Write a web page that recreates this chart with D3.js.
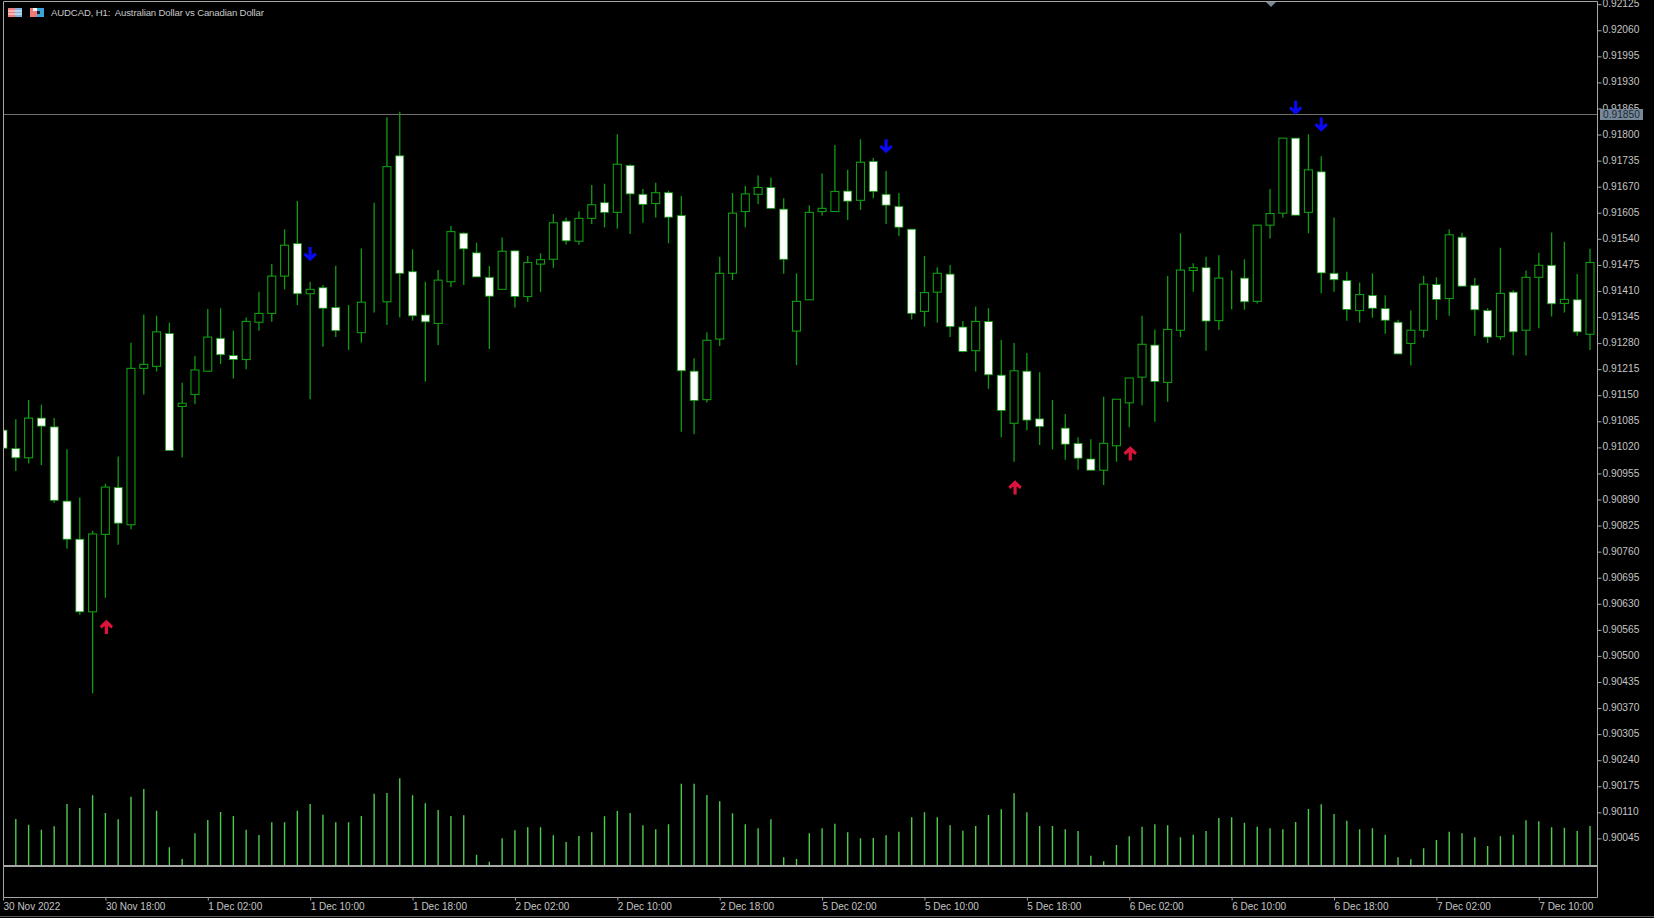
<!DOCTYPE html>
<html>
<head>
<meta charset="utf-8">
<title>AUDCAD, H1</title>
<script src="https://cdn.jsdelivr.net/npm/d3@7"></script>
<style>
  html, body { margin: 0; padding: 0; background: #000; overflow: hidden; }
  text { font-family: "Liberation Sans", sans-serif; }
</style>
</head>
<body>
<div id="plot"></div>
<script>
// prices are in points (price x 100000), one entry per H1 bar
const open = [91063,91017,90994,91093,91071,90886,90791,90610,90803,90920,90827,91217,91222,91304,91122,91152,91210,91292,91249,91239,91332,91354,91447,91528,91403,91418,91369,91310,91306,91381,91383,91747,91458,91350,91329,91433,91554,91505,91444,91414,91510,91396,91477,91489,91584,91534,91591,91630,91606,91723,91651,91628,91655,91598,91210,91139,91290,91454,91608,91651,91668,91614,91310,91388,91608,91608,91659,91636,91733,91651,91621,91564,91359,91407,91452,91320,91261,91334,91200,91080,91210,91091,91070,91068,91030,90991,90963,91024,91131,91195,91275,91182,91312,91461,91468,91336,91444,91442,91384,91574,91604,91791,91606,91707,91454,91436,91361,91399,91366,91332,91279,91312,91426,91391,91544,91424,91361,91296,91407,91312,91444,91474,91379,91388,91302];
const high = [91078,91090,91138,91126,91093,91015,90895,90812,90929,90997,91281,91351,91348,91331,91181,91248,91365,91367,91311,91344,91408,91477,91564,91634,91433,91425,91473,91375,91516,91630,91843,91857,91514,91433,91462,91572,91556,91530,91472,91543,91510,91497,91504,91602,91593,91609,91674,91677,91801,91726,91664,91680,91660,91647,91242,91307,91495,91654,91672,91698,91693,91641,91454,91624,91703,91774,91712,91788,91742,91709,91654,91564,91497,91469,91475,91335,91371,91367,91288,91280,91255,91207,91138,91103,91045,91040,91146,91140,91193,91348,91314,91447,91554,91479,91495,91499,91461,91489,91574,91664,91791,91791,91801,91746,91593,91458,91431,91454,91399,91338,91361,91448,91444,91564,91555,91443,91367,91518,91412,91461,91505,91556,91533,91452,91515];
const low = [91008,90961,90980,90976,90881,90767,90602,90407,90645,90777,90816,91152,91209,91012,90995,91128,91210,91228,91192,91215,91311,91333,91414,91375,91140,91271,91295,91263,91281,91356,91325,91344,91336,91184,91275,91419,91425,91445,91265,91414,91369,91383,91407,91468,91526,91525,91577,91568,91565,91552,91580,91593,91529,91059,91053,91132,91273,91437,91569,91626,91616,91453,91225,91388,91598,91608,91587,91612,91641,91577,91547,91339,91321,91331,91295,91257,91209,91166,91045,90984,91062,91026,91015,90989,90964,90963,90926,90984,91070,91125,91084,91134,91295,91408,91261,91313,91364,91363,91379,91541,91593,91599,91554,91404,91408,91336,91331,91343,91303,91253,91224,91294,91338,91348,91422,91298,91280,91288,91250,91249,91317,91346,91356,91298,91263];
const close = [91018,90994,91093,91073,90888,90791,90610,90804,90921,90831,91217,91227,91308,91012,91130,91213,91295,91251,91239,91334,91354,91447,91524,91403,91414,91367,91311,91310,91382,91381,91720,91454,91348,91333,91437,91558,91515,91445,91397,91509,91396,91481,91488,91580,91535,91591,91625,91606,91726,91652,91626,91655,91594,91211,91137,91287,91454,91604,91652,91668,91616,91489,91384,91606,91616,91658,91634,91731,91658,91624,91569,91354,91406,91454,91321,91259,91334,91201,91112,91211,91088,91072,91070,91028,90993,90963,91030,91140,91193,91277,91184,91314,91462,91468,91335,91442,91444,91383,91574,91603,91791,91599,91712,91455,91438,91364,91401,91367,91337,91253,91312,91427,91389,91550,91422,91363,91295,91404,91308,91444,91474,91378,91389,91308,91481];
const volume = [120,141,124,109,119,186,174,212,159,140,208,231,166,56,21,98,138,162,150,109,93,131,131,166,186,154,131,131,150,217,219,263,212,188,168,150,152,34,13,83,107,116,116,92,72,90,101,149,165,159,122,110,125,247,247,213,194,158,125,113,140,26,21,98,113,127,101,83,84,92,103,146,161,146,122,106,120,153,170,218,161,120,120,110,105,31,14,63,89,118,125,122,86,94,105,144,146,130,118,113,110,132,171,185,156,136,110,113,94,26,20,53,78,103,98,86,60,89,94,137,134,116,115,105,120];

// indicator arrows: bar index and price of the arrow centre
const downBars = [24, 69, 101, 103];
const downPrices = [91502, 91771, 91867, 91825];
const upBars = [8, 79, 88];
const upPrices = [90572, 90920, 91005];

const currentPrice = 91850;

const priceTicks = [92125,92060,91995,91930,91865,91800,91735,91670,91605,91540,91475,91410,91345,91280,91215,91150,91085,91020,90955,90890,90825,90760,90695,90630,90565,90500,90435,90370,90305,90240,90175,90110,90045];
const timeBars = [0,8,16,24,32,40,48,56,64,72,80,88,96,104,112,120];
const timeLabels = ["30 Nov 2022","30 Nov 18:00","1 Dec 02:00","1 Dec 10:00","1 Dec 18:00","2 Dec 02:00","2 Dec 10:00","2 Dec 18:00","5 Dec 02:00","5 Dec 10:00","5 Dec 18:00","6 Dec 02:00","6 Dec 10:00","6 Dec 18:00","7 Dec 02:00","7 Dec 10:00"];

const titleText = "AUDCAD, H1:  Australian Dollar vs Canadian Dollar";

// set the dimensions of the window and the plot frame
const width = 1654;
const height = 918;
const frame = {left: 3.5, top: 1.5, right: 1597.5, bottom: 897.5};
const volumeBase = 866;

const green = "#109c10";
const volumeGreen = "#4ccc4c";
const axisGray = "#a6a6a6";

const svg = d3.select("div#plot")
  .append("svg")
    .attr("width", width)
    .attr("height", height)
    .style("display", "block");

svg.append("rect")
    .attr("width", width)
    .attr("height", height)
    .attr("fill", "#000");

svg.append("clipPath")
    .attr("id", "plotClip")
  .append("rect")
    .attr("x", frame.left)
    .attr("y", frame.top)
    .attr("width", frame.right - frame.left)
    .attr("height", frame.bottom - frame.top);

const xScale = d3.scaleLinear()
    .domain([0, 124])
    .range([3, 1590]);

const yScale = d3.scaleLinear()
    .domain([90045, 92125])
    .range([838.4, 4.2]);

const volScale = d3.scaleLinear()
    .domain([0, 300])
    .range([volumeBase, volumeBase - 100]);

const g = svg.append("g").attr("clip-path", "url(#plotClip)");

// current price line
g.append("line")
    .attr("x1", frame.left)
    .attr("x2", frame.right)
    .attr("y1", Math.round(yScale(currentPrice)) + 0.5)
    .attr("y2", Math.round(yScale(currentPrice)) + 0.5)
    .attr("stroke", "#6f6f6f");

// volume bars
g.selectAll("line.vol")
  .data(volume)
  .join("line")
    .attr("class", "vol")
    .attr("x1", (d, i) => xScale(i))
    .attr("x2", (d, i) => xScale(i))
    .attr("y1", d => volScale(d))
    .attr("y2", volumeBase)
    .attr("stroke", volumeGreen)
    .attr("stroke-width", 1.4);

g.append("line")
    .attr("x1", frame.left)
    .attr("x2", frame.right)
    .attr("y1", volumeBase)
    .attr("y2", volumeBase)
    .attr("stroke", "#a8a8a8")
    .attr("stroke-width", 2);

// candles
const candles = g.selectAll("g.candle")
  .data(d3.range(open.length))
  .join("g")
    .attr("class", "candle");

candles.append("line")
    .attr("x1", i => xScale(i))
    .attr("x2", i => xScale(i))
    .attr("y1", i => yScale(high[i]))
    .attr("y2", i => yScale(low[i]))
    .attr("stroke", green)
    .attr("stroke-width", 1.3);

candles.append("rect")
    .attr("x", i => xScale(i) - 4)
    .attr("width", 8)
    .attr("y", i => yScale(Math.max(open[i], close[i])))
    .attr("height", i => Math.abs(yScale(open[i]) - yScale(close[i])))
    .attr("fill", i => close[i] < open[i] ? "#fff" : "#000")
    .attr("stroke", green)
    .attr("stroke-width", i => close[i] < open[i] ? 0.8 : 1.1);

// wingdings style arrows, filled head over a thick stem
function arrowPath(dir) {
  // dir -1 points up, 1 points down
  const p = d3.path();
  p.moveTo(-1.6, -7 * dir);
  p.lineTo(1.6, -7 * dir);
  p.lineTo(1.6, 1 * dir);
  p.lineTo(5, -1.5 * dir);
  p.lineTo(6.6, 1 * dir);
  p.lineTo(0, 7.2 * dir);
  p.lineTo(-6.6, 1 * dir);
  p.lineTo(-5, -1.5 * dir);
  p.lineTo(-1.6, 1 * dir);
  p.closePath();
  return p.toString();
}

g.selectAll("path.down")
  .data(downBars)
  .join("path")
    .attr("class", "down")
    .attr("transform", (d, i) => `translate(${xScale(d)}, ${yScale(downPrices[i])})`)
    .attr("d", arrowPath(1))
    .attr("fill", "#0a0af0");

g.selectAll("path.up")
  .data(upBars)
  .join("path")
    .attr("class", "up")
    .attr("transform", (d, i) => `translate(${xScale(d) + 1}, ${yScale(upPrices[i])})`)
    .attr("d", arrowPath(-1))
    .attr("fill", "#dc143c");

// frame
svg.append("path")
    .attr("d", `M${frame.left},${frame.bottom}V${frame.top}H${frame.right}V${frame.bottom}H${frame.left}`)
    .attr("fill", "none")
    .attr("stroke", axisGray);

svg.append("line")
    .attr("x1", 0).attr("x2", width)
    .attr("y1", 916.5).attr("y2", 916.5)
    .attr("stroke", "#5a5a5a");

// axes
const priceAxis = svg.append("g")
    .attr("transform", `translate(${frame.right}, 0)`)
    .call(d3.axisRight(yScale)
      .tickValues(priceTicks)
      .tickSize(4)
      .tickPadding(1)
      .tickFormat(d => (d / 100000).toFixed(5)));

priceAxis.select(".domain").remove();
priceAxis.selectAll("line").attr("stroke", axisGray);
priceAxis.selectAll("text")
    .attr("fill", "#c4c4c4")
    .attr("dy", "0.25em")
    .style("font-size", "10.2px");

const timeAxis = svg.append("g")
    .attr("transform", `translate(0, ${frame.bottom})`)
    .call(d3.axisBottom(xScale)
      .tickValues(timeBars)
      .tickSize(3)
      .tickPadding(2)
      .tickFormat((d, i) => timeLabels[i]));

timeAxis.select(".domain").remove();
timeAxis.selectAll("line").attr("stroke", axisGray);
timeAxis.selectAll("text")
    .attr("fill", "#c4c4c4")
    .attr("text-anchor", "start")
    .style("font-size", "10px");

// current price tag over the axis
svg.append("rect")
    .attr("x", 1600)
    .attr("y", yScale(currentPrice) - 5.5)
    .attr("width", 43)
    .attr("height", 11)
    .attr("fill", "#778899");

svg.append("text")
    .attr("x", 1603)
    .attr("y", yScale(currentPrice) + 3.7)
    .attr("fill", "#1c2733")
    .style("font-size", "10.2px")
    .text((currentPrice / 100000).toFixed(5));

// shift marker at the top of the chart
svg.append("path")
    .attr("d", d3.line()([[1266, 2], [1276, 2], [1271, 7]]) + "Z")
    .attr("fill", "#778899");

// title and the two small window icons
svg.append("text")
    .attr("x", 51)
    .attr("y", 16)
    .attr("fill", "#c8c8c8")
    .attr("textLength", 213)
    .style("font-size", "9.6px")
    .style("white-space", "pre")
    .text(titleText);

const icon = svg.append("g");
icon.append("rect").attr("x", 8).attr("y", 8).attr("width", 7).attr("height", 9).attr("fill", "#f07a78");
icon.append("rect").attr("x", 15).attr("y", 8).attr("width", 7).attr("height", 9).attr("fill", "#7fb2e0");
[11, 14].forEach(y => icon.append("line").attr("x1", 8).attr("x2", 22).attr("y1", y).attr("y2", y).attr("stroke", "#f4f4f4"));
icon.append("rect").attr("x", 30).attr("y", 8).attr("width", 7).attr("height", 9).attr("fill", "#f07a78");
icon.append("rect").attr("x", 37).attr("y", 8).attr("width", 7).attr("height", 9).attr("fill", "#38a6dc");
icon.append("rect").attr("x", 33).attr("y", 8).attr("width", 4).attr("height", 3).attr("fill", "#f4f4f4");
icon.append("rect").attr("x", 37).attr("y", 11).attr("width", 3).attr("height", 3).attr("fill", "#10222e");
</script>
</body>
</html>
